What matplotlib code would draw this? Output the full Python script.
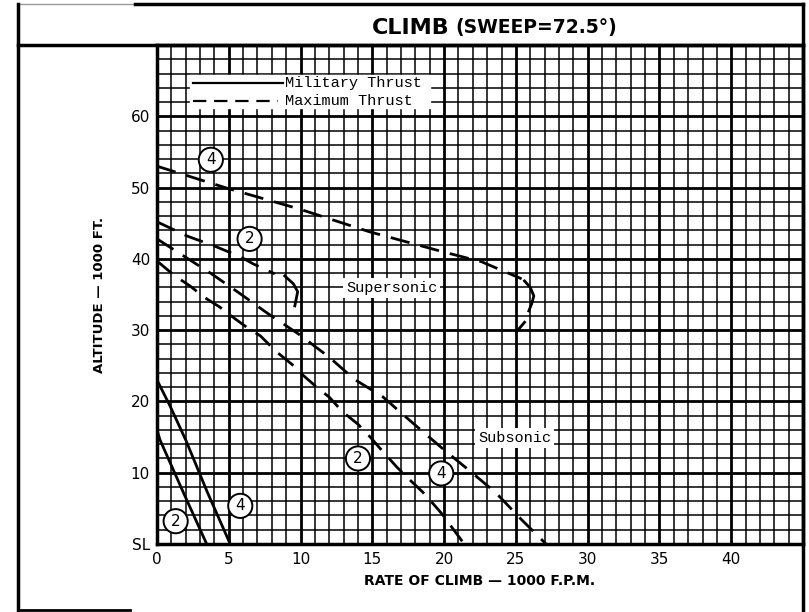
import matplotlib
matplotlib.use("Agg")
import matplotlib.pyplot as plt
from matplotlib.lines import Line2D
import numpy as np

# ---- data (rate of climb in 1000 fpm, altitude in 1000 ft) ----
mil2_roc = [0.0, 0.21, 1.82, 3.46]
mil2_alt = [16.0, 14.6, 7.3, 0.0]
mil4_roc = [0.0, 0.9, 2.0, 3.5, 5.1]
mil4_alt = [23.0, 19.4, 14.6, 7.3, 0.0]

# maximum thrust, supersonic branches
max4_sup_roc = [0.0, 4.9, 9.9, 14.8, 19.9, 22.6, 25.4]
max4_sup_alt = [53.0, 49.9, 47.0, 43.8, 41.0, 39.6, 37.2]
max4_hook_roc = [25.6, 26.0, 26.25, 26.1, 25.9]
max4_hook_alt = [36.9, 36.0, 34.8, 33.7, 32.7]
max4_tail_roc = [25.6, 25.1]
max4_tail_alt = [31.1, 29.9]

max2_sup_roc = [0.0, 2.1, 4.0, 5.8, 6.7, 8.2]
max2_sup_alt = [45.2, 43.2, 41.8, 40.3, 39.3, 37.9]
max2_hook_roc = [8.9, 9.5, 9.8, 9.6]
max2_hook_alt = [37.6, 36.5, 35.4, 33.4]

# maximum thrust, subsonic branches
max4_sub_roc = [0.0, 3.8, 5.8, 7.6, 9.9, 12.0, 13.75, 15.7, 17.8, 20.0, 21.7, 23.6, 25.4, 27.1]
max4_sub_alt = [42.8, 37.9, 35.1, 32.5, 29.4, 26.2, 23.1, 20.7, 17.0, 13.2, 10.4, 7.2, 3.4, 0.0]
max2_sub_roc = [0.0, 1.25, 2.3, 3.3, 4.4, 5.3, 6.25, 7.2, 8.3, 9.4, 10.1, 11.3, 12.0,
                12.9, 14.0, 14.9, 15.5, 16.7, 17.4, 18.5, 19.3, 19.9, 20.3, 21.4]
max2_sub_alt = [39.7, 37.6, 36.2, 34.6, 33.2, 31.8, 30.4, 29.2, 27.0, 25.2, 23.8, 21.7, 20.6,
                18.6, 16.8, 14.9, 13.5, 10.8, 9.4, 7.3, 5.5, 4.1, 3.0, 0.0]

x_ticks = [0, 5, 10, 15, 20, 25, 30, 35, 40]
y_ticks = [0, 10, 20, 30, 40, 50, 60]
y_ticklabels = ["SL", "10", "20", "30", "40", "50", "60"]

# circled curve numbers: (label, roc, alt)
circle_labels = [("4", 3.75, 53.9), ("2", 6.45, 42.8), ("2", 14.0, 12.0),
                 ("4", 19.8, 9.9), ("2", 1.3, 3.2), ("4", 5.8, 5.35)]

W, H = 809, 612
fig = plt.figure(figsize=(W / 100, H / 100), dpi=100)
ax = fig.add_axes([157 / W, 1 - 544 / H, (803 - 157) / W, (544 - 45) / H])

ax.set_xlim(0, 45)
ax.set_ylim(0, 70)
ax.set_xticks(x_ticks + [45])
ax.set_xticklabels([str(v) for v in x_ticks] + [""])
ax.set_xticks(np.arange(0, 46, 1), minor=True)
ax.set_yticks(y_ticks + [70])
ax.set_yticklabels(y_ticklabels + [""])
ax.set_yticks(np.arange(0, 71, 2), minor=True)
ax.tick_params(which="both", length=0)
ax.tick_params(axis="x", pad=6, labelsize=11)
ax.tick_params(axis="y", pad=5, labelsize=11)
ax.grid(which="major", color="black", lw=2.0)
ax.grid(which="minor", color="black", lw=1.1)
ax.set_axisbelow(True)
for s in ax.spines.values():
    s.set_linewidth(2.5)

ax.set_xlabel("RATE OF CLIMB — 1000 F.P.M.", fontsize=10, fontweight="bold", labelpad=5)
ax.set_ylabel("ALTITUDE — 1000 FT.", fontsize=9.5, fontweight="bold", labelpad=18)

# curves
lw = 2.0
ax.plot(mil2_roc, mil2_alt, color="black", lw=lw, zorder=4)
ax.plot(mil4_roc, mil4_alt, color="black", lw=lw, zorder=4)
dash = (7, 4)
for xs, ys in [(max4_sup_roc, max4_sup_alt), (max2_sup_roc, max2_sup_alt),
               (max4_sub_roc, max4_sub_alt), (max2_sub_roc, max2_sub_alt)]:
    ax.plot(xs, ys, color="black", lw=lw, dashes=dash, zorder=4)
for xs, ys in [(max4_hook_roc, max4_hook_alt), (max4_tail_roc, max4_tail_alt),
               (max2_hook_roc, max2_hook_alt)]:
    ax.plot(xs, ys, color="black", lw=lw, zorder=4)

mono = "Liberation Mono"
# legend block
ax.fill_between([2.3, 19.0], 61.2, 65.8, color="white", zorder=3)
ax.plot([2.5, 8.75], [64.6, 64.6], color="black", lw=1.6, zorder=4)
ax.plot([2.5, 8.4], [62.1, 62.1], color="black", lw=1.6, dashes=(6, 3.5), zorder=4)
ax.text(8.9, 64.6, "Military Thrust", family=mono, fontsize=11, va="center", zorder=5)
ax.text(8.9, 62.1, "Maximum Thrust", family=mono, fontsize=11, va="center", zorder=5)

bbox_w = dict(facecolor="white", edgecolor="none", pad=2)
ax.text(16.35, 35.9, "Supersonic", family=mono, fontsize=11, ha="center", va="center",
        bbox=bbox_w, zorder=5)
ax.text(24.9, 14.9, "Subsonic", family=mono, fontsize=11, ha="center", va="center",
        bbox=bbox_w, zorder=5)

for lab, cx, cy in circle_labels:
    ax.text(cx, cy, lab, fontsize=11, ha="center", va="center", zorder=6,
            bbox=dict(boxstyle="circle,pad=0.3", facecolor="white", edgecolor="black", lw=1.4))

# page frame and title box
def fline(xs, ys, **kw):
    fig.add_artist(Line2D([x / W for x in xs], [1 - y / H for y in ys],
                          transform=fig.transFigure, color="black", **kw))

fline([135, 803], [4, 4], lw=2.5)
fline([18, 135], [4, 4], lw=1.0, alpha=0.4)
fline([18, 803], [45, 45], lw=2.5)
fline([18, 18], [4, 611], lw=2.5)
fline([803, 803], [4, 612], lw=2.5)
fline([18, 130], [610, 610], lw=2.0)

fig.text(372 / W, 1 - 28 / H, "CLIMB", fontweight="bold",
         fontsize=16, va="center", ha="left")
fig.text(455 / W, 1 - 28 / H, "(SWEEP=72.5°)", fontweight="bold",
         fontsize=13.5, va="center", ha="left")

fig.savefig("out.png", dpi=100)
